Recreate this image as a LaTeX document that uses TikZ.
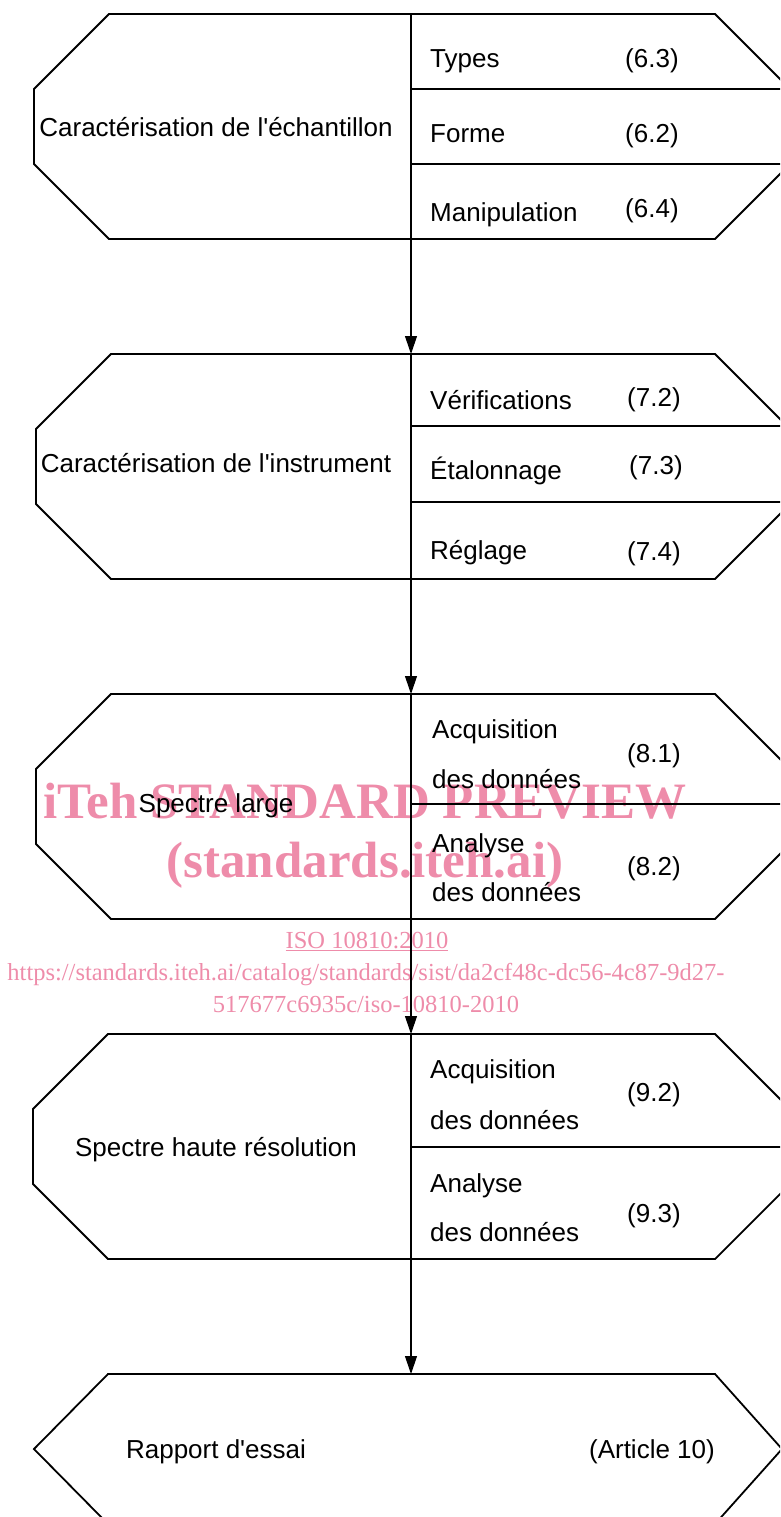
\documentclass[tikz,border=0pt]{standalone}
\usepackage{fontspec}
\setmainfont{Liberation Sans}
\newfontfamily\wmfont{Liberation Serif}
\usetikzlibrary{arrows.meta}
\definecolor{wmpink}{RGB}{238,140,170}
\newcommand{\octashape}[2]{% #1 = top y, #2 = left x
  \draw[border] (#2+75,#1) -- (715,#1) -- (790,#1+75) -- (790,#1+150) -- (715,#1+225)
    -- (#2+75,#1+225) -- (#2,#1+150) -- (#2,#1+75) -- cycle;}
\newcommand{\apos}{\textquotesingle}
\begin{document}
\begin{tikzpicture}[x=1pt,y=-1pt,
  border/.style={line width=1.8pt, line join=miter},
  divider/.style={line width=1.8pt},
  conn/.style={line width=1.1pt, -{Triangle[length=18pt,width=12pt]}},
  item/.style={inner sep=0pt, anchor=base west, font=\fontsize{26}{31}\selectfont},
  ref/.style={inner sep=0pt, anchor=base west, font=\fontsize{26}{31}\selectfont},
  title/.style={inner sep=0pt, anchor=base, font=\fontsize{26}{31}\selectfont},
  wmbig/.style={inner sep=0pt, anchor=base, text=wmpink, font=\wmfont\bfseries\fontsize{51}{60}\selectfont},
  wmsmall/.style={inner sep=0pt, anchor=base, text=wmpink, font=\wmfont\fontsize{24.5}{29}\selectfont}]
\clip (0,0) rectangle (780,1517);

% watermark (behind)
\node[wmbig] (wm1) at (365,818) {iTeh STANDARD PREVIEW};
\node[wmbig] (wm2) at (365,877) {(standards.iteh.ai)};
\node[wmsmall] (wm3) at (367,948) {\underline{ISO 10810:2010}};
\node[wmsmall] (wm4) at (366,980) {https://standards.iteh.ai/catalog/standards/sist/da2cf48c-dc56-4c87-9d27-};
\node[wmsmall] (wm5) at (366,1012) {517677c6935c/iso-10810-2010};

% shapes
\octashape{14}{34}
\octashape{354}{36}
\octashape{694}{36}
\octashape{1034}{33}
\draw[border] (108,1374) -- (715,1374) -- (782,1449) -- (715,1524) -- (108,1524) -- (34,1449) -- cycle;

% coordinates
\coordinate (b1n) at (411,14);   \coordinate (b1s) at (411,239);
\coordinate (b2n) at (411,354);  \coordinate (b2s) at (411,579);
\coordinate (b3n) at (411,694);  \coordinate (b3s) at (411,919);
\coordinate (b4n) at (411,1034); \coordinate (b4s) at (411,1259);
\coordinate (b5n) at (411,1374);

% dividers
\draw[divider] (b1n) -- (b1s);
\draw[divider] (b2n) -- (b2s);
\draw[divider] (b3n) -- (b3s);
\draw[divider] (b4n) -- (b4s);
\draw[divider] (411,89) -- (790,89);
\draw[divider] (411,164) -- (790,164);
\draw[divider] (411,426) -- (790,426);
\draw[divider] (411,502) -- (790,502);
\draw[divider] (411,804) -- (790,804);
\draw[divider] (411,1147) -- (790,1147);

% connectors
\draw[conn] (b1s) -- (b2n);
\draw[conn] (b2s) -- (b3n);
\draw[conn] (b3s) -- (b4n);
\draw[conn] (b4s) -- (b5n);

% block 1
\node[title] (t1) at (216,137) {Caractérisation de l\apos échantillon};
\node[item] (i11) at (430,68) {Types};
\node[ref] (r11) at (625,68) {(6.3)};
\node[item] (i12) at (430,143) {Forme};
\node[ref] (r12) at (625,143) {(6.2)};
\node[item] (i13) at (430,221) {Manipulation};
\node[ref] (r13) at (625,217) {(6.4)};

% block 2
\node[title] (t2) at (216,472) {Caractérisation de l\apos instrument};
\node[item] (i21) at (430,409) {Vérifications};
\node[ref] (r21) at (627,406) {(7.2)};
\node[item] (i22) at (430,479) {Étalonnage};
\node[ref] (r22) at (629,474) {(7.3)};
\node[item] (i23) at (430,559) {Réglage};
\node[ref] (r23) at (627,560) {(7.4)};

% block 3
\node[title] (t3) at (216,812) {Spectre large};
\node[item] (i31) at (432,738) {Acquisition};
\node[item] (i31b) at (432,788) {des données};
\node[ref] (r31) at (627,762) {(8.1)};
\node[item] (i32) at (432,852) {Analyse};
\node[item] (i32b) at (432,901) {des données};
\node[ref] (r32) at (627,875) {(8.2)};

% block 4
\node[title] (t4) at (216,1156) {Spectre haute résolution};
\node[item] (i41) at (430,1078) {Acquisition};
\node[item] (i41b) at (430,1129) {des données};
\node[ref] (r41) at (627,1101) {(9.2)};
\node[item] (i42) at (430,1192) {Analyse};
\node[item] (i42b) at (430,1241) {des données};
\node[ref] (r42) at (627,1222) {(9.3)};

% block 5
\node[title] (t5) at (216,1458) {Rapport d\apos essai};
\node[inner sep=0pt, anchor=base east, font=\fontsize{26}{31}\selectfont] (r5) at (715,1458) {(Article 10)};
\end{tikzpicture}
\end{document}
